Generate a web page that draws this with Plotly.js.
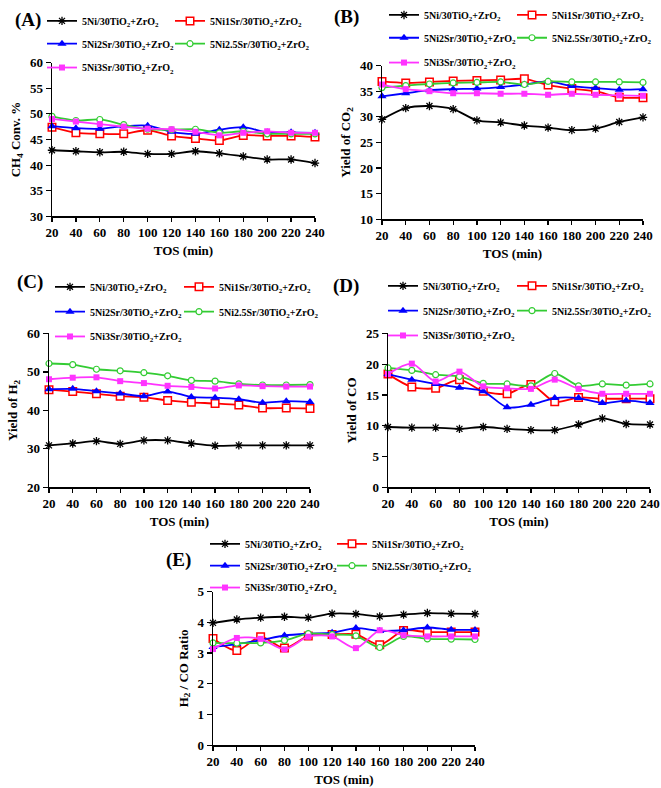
<!DOCTYPE html>
<html>
<head>
<meta charset="utf-8">
<script src="https://cdn.plot.ly/plotly-3.0.1.min.js"></script>
<style>html,body{margin:0;padding:0;background:#fff;}#chart{width:661px;height:788px;}</style>
</head>
<body>
<div id="chart"></div>
<script>
// ---- data ----
const tos = [20, 40, 60, 80, 100, 120, 140, 160, 180, 200, 220, 240];
const seriesNames = [
  '5Ni/30TiO<sub>2</sub>+ZrO<sub>2</sub>',
  '5Ni1Sr/30TiO<sub>2</sub>+ZrO<sub>2</sub>',
  '5Ni2Sr/30TiO<sub>2</sub>+ZrO<sub>2</sub>',
  '5Ni2.5Sr/30TiO<sub>2</sub>+ZrO<sub>2</sub>',
  '5Ni3Sr/30TiO<sub>2</sub>+ZrO<sub>2</sub>'
];
const panelLabels = ['(A)', '(B)', '(C)', '(D)', '(E)'];
const yTitles = ['CH<sub>4</sub> Conv. %', 'Yield of CO<sub>2</sub>', 'Yield of H<sub>2</sub>', 'Yield of CO', 'H<sub>2</sub> / CO Ratio'];
const xTitle = 'TOS (min)';

// (A) CH4 conversion
const ch4_Ni    = [42.9, 42.7, 42.5, 42.6, 42.2, 42.2, 42.7, 42.3, 41.7, 41.1, 41.1, 40.4];
const ch4_Sr1   = [47.4, 46.3, 46.1, 46.1, 46.8, 45.7, 45.2, 44.8, 45.8, 45.7, 45.7, 45.5];
const ch4_Sr2   = [47.6, 47.2, 47.1, 47.6, 47.7, 46.5, 46.1, 46.9, 47.4, 46.4, 46.4, 46.3];
const ch4_Sr25  = [49.5, 48.7, 48.9, 47.9, 47.0, 46.9, 47.0, 46.3, 46.6, 46.1, 46.1, 46.1];
const ch4_Sr3   = [49.0, 48.5, 48.0, 47.5, 47.1, 47.0, 46.5, 45.8, 46.3, 46.6, 46.3, 46.3];
// (B) Yield of CO2
const co2_Ni    = [29.5, 31.7, 32.1, 31.5, 29.3, 28.9, 28.3, 27.9, 27.4, 27.7, 29.0, 29.9];
const co2_Sr1   = [36.9, 36.6, 36.8, 37.0, 37.1, 37.2, 37.4, 36.2, 35.5, 35.0, 33.8, 33.7];
const co2_Sr2   = [34.0, 34.6, 35.2, 35.4, 35.5, 35.8, 36.3, 36.9, 36.0, 35.6, 35.3, 35.4];
const co2_Sr25  = [35.7, 36.1, 36.4, 36.6, 36.7, 36.8, 36.3, 36.9, 36.8, 36.8, 36.8, 36.7];
const co2_Sr3   = [36.3, 35.4, 35.0, 34.6, 34.6, 34.5, 34.5, 34.3, 34.5, 34.3, 34.2, 34.1];
// (C) Yield of H2
const h2_Ni     = [30.9, 31.4, 32.0, 31.3, 32.2, 32.2, 31.4, 30.8, 30.9, 30.9, 30.9, 30.9];
const h2_Sr1    = [45.4, 44.9, 44.3, 43.7, 43.4, 42.6, 42.1, 41.8, 41.4, 40.6, 40.6, 40.5];
const h2_Sr2    = [45.5, 45.6, 45.0, 44.4, 43.7, 44.9, 43.5, 43.3, 42.9, 42.0, 42.4, 42.2];
const h2_Sr25   = [52.2, 51.9, 50.7, 50.3, 49.8, 49.0, 47.8, 47.6, 46.9, 46.6, 46.6, 46.7];
const h2_Sr3    = [48.1, 48.5, 48.6, 47.6, 47.1, 46.4, 46.1, 45.7, 46.5, 46.3, 46.2, 46.2];
// (D) Yield of CO
const co_Ni     = [9.8, 9.7, 9.7, 9.5, 9.8, 9.5, 9.3, 9.3, 10.2, 11.2, 10.3, 10.2];
const co_Sr1    = [18.4, 16.3, 16.1, 17.5, 15.6, 15.2, 16.7, 13.9, 14.6, 14.4, 14.4, 14.4];
const co_Sr2    = [18.4, 17.5, 16.8, 16.2, 15.6, 13.0, 13.4, 14.5, 14.5, 13.7, 14.1, 13.7];
const co_Sr25   = [19.4, 19.0, 18.3, 18.0, 16.9, 16.8, 16.5, 18.5, 16.5, 16.8, 16.6, 16.8];
const co_Sr3    = [18.4, 20.1, 17.2, 18.8, 16.4, 16.1, 16.0, 17.5, 16.0, 15.2, 15.2, 15.2];
// (E) H2/CO ratio
const ratio_Ni   = [3.98, 4.09, 4.15, 4.18, 4.15, 4.28, 4.27, 4.19, 4.25, 4.30, 4.28, 4.27];
const ratio_Sr1  = [3.47, 3.08, 3.53, 3.16, 3.55, 3.60, 3.61, 3.27, 3.73, 3.68, 3.68, 3.68];
const ratio_Sr2  = [3.20, 3.29, 3.42, 3.57, 3.63, 3.66, 3.81, 3.72, 3.74, 3.83, 3.76, 3.75];
const ratio_Sr25 = [3.33, 3.32, 3.33, 3.41, 3.63, 3.60, 3.56, 3.18, 3.54, 3.46, 3.45, 3.44];
const ratio_Sr3  = [3.13, 3.49, 3.46, 3.12, 3.53, 3.54, 3.16, 3.74, 3.58, 3.54, 3.54, 3.54];

const yRanges = [[30, 60], [10, 40], [20, 60], [0, 25], [0, 5]];
const yDticks = [5, 5, 10, 5, 1];

// ---- styling ----
const FONT = 'Liberation Serif, Times New Roman, serif';
const styles = [
  {color: '#000000', symbol: 'asterisk-open', fill: '#000000', size: 7, lw: 1.3},
  {color: '#ff0000', symbol: 'square', fill: '#ffffff', size: 7.5, lw: 1.5},
  {color: '#0000ff', symbol: 'triangle-up', fill: '#0000ff', size: 8, lw: 0},
  {color: '#33cc33', symbol: 'circle', fill: '#ffffff', size: 6, lw: 1.2},
  {color: '#ff33ff', symbol: 'square', fill: '#ff33ff', size: 6, lw: 0}
];

const panelData = [
  [ch4_Ni, ch4_Sr1, ch4_Sr2, ch4_Sr25, ch4_Sr3],
  [co2_Ni, co2_Sr1, co2_Sr2, co2_Sr25, co2_Sr3],
  [h2_Ni, h2_Sr1, h2_Sr2, h2_Sr25, h2_Sr3],
  [co_Ni, co_Sr1, co_Sr2, co_Sr25, co_Sr3],
  [ratio_Ni, ratio_Sr1, ratio_Sr2, ratio_Sr25, ratio_Sr3]
];

// layout geometry (pixels in 661x788 page)
const W = 661, H = 788;
const boxes = [
  {x0: 52, x1: 315, y0: 57, y1: 212},
  {x0: 382, x1: 643, y0: 60, y1: 215},
  {x0: 49, x1: 310, y0: 330, y1: 485},
  {x0: 388, x1: 650, y0: 330, y1: 485},
  {x0: 213, x1: 475, y0: 590, y1: 745}
];
const labelPos = [[28, 14], [346, 11], [30, 278], [346, 282], [178, 558]];
// legend symbol centres: columns x, rows y
const legendPos = [
  {cols: [62, 190], rows: [15, 38, 62]},
  {cols: [404, 532], rows: [9, 32, 57]},
  {cols: [70, 199], rows: [283, 308, 333]},
  {cols: [403, 532], rows: [282, 307, 332]},
  {cols: [225, 352], rows: [542, 564, 586]}
];
const rowOfSeries = [0, 0, 1, 1, 2];
const colOfSeries = [0, 1, 0, 1, 0];

const traces = [];
const layout = {
  width: W, height: H, autosize: false,
  margin: {l: 0, r: 0, t: 0, b: 0},
  paper_bgcolor: '#ffffff', plot_bgcolor: '#ffffff',
  font: {family: FONT, color: '#000', size: 13, weight: 'bold'},
  showlegend: true,
  annotations: []
};

let legendCount = 0;
panelData.forEach((series, p) => {
  const n = p + 1;
  const xa = 'x' + (n === 1 ? '' : n), ya = 'y' + (n === 1 ? '' : n);
  const b = boxes[p];
  series.forEach((vals, s) => {
    const st = styles[s];
    legendCount++;
    const id = 'legend' + (legendCount === 1 ? '' : legendCount);
    const mx = legendPos[p].cols[colOfSeries[s]];
    const my = legendPos[p].rows[rowOfSeries[s]];
    layout[id] = {
      orientation: 'h', x: (mx - 20) / W, xanchor: 'left', xref: 'paper',
      y: 1 - my / H, yanchor: 'middle', yref: 'paper',
      bgcolor: 'rgba(0,0,0,0)', borderwidth: 0, itemwidth: 30,
      font: {family: FONT, size: 10, color: '#000', weight: 'bold'}
    };
    traces.push({
      type: 'scatter', mode: 'lines+markers', x: tos, y: vals,
      xaxis: xa, yaxis: ya, name: seriesNames[s],
      legend: id, showlegend: true,
      cliponaxis: false,
      line: {color: st.color, width: 1.8, shape: 'spline', smoothing: 0.8},
      marker: {color: st.fill, symbol: st.symbol, size: st.size,
               line: {color: st.color, width: st.lw}}
    });
  });
  const xKey = 'xaxis' + (n === 1 ? '' : n), yKey = 'yaxis' + (n === 1 ? '' : n);
  layout[xKey] = {
    domain: [b.x0 / W, b.x1 / W], anchor: ya, range: [20, 240],
    tickmode: 'array', tickvals: tos, ticktext: tos.map(String),
    showline: true, linecolor: '#000', linewidth: 1.5, mirror: false,
    ticks: 'outside', ticklen: 4, tickwidth: 1.2, tickcolor: '#000',
    showgrid: false, zeroline: false,
    tickfont: {family: FONT, size: 13, color: '#000', weight: 'bold'},
    title: {text: xTitle, font: {family: FONT, size: 13, color: '#000', weight: 'bold'}, standoff: 6},
    automargin: false, fixedrange: true
  };
  layout[yKey] = {
    domain: [1 - b.y1 / H, 1 - b.y0 / H], anchor: xa, range: yRanges[p], dtick: yDticks[p],
    tick0: yRanges[p][0],
    showline: true, linecolor: '#000', linewidth: 1.5, mirror: false,
    ticks: 'outside', ticklen: 5, tickwidth: 1.2, tickcolor: '#000',
    showgrid: false, zeroline: false,
    tickfont: {family: FONT, size: 13, color: '#000', weight: 'bold'},
    title: {text: yTitles[p], font: {family: FONT, size: 13, color: '#000', weight: 'bold'}, standoff: 6},
    automargin: false, fixedrange: true
  };
  layout.annotations.push({
    text: panelLabels[p], xref: 'paper', yref: 'paper',
    x: labelPos[p][0] / W, y: 1 - labelPos[p][1] / H, xanchor: 'center', yanchor: 'middle',
    showarrow: false, font: {family: FONT, size: 19, color: '#000', weight: 'bold'}
  });
});

Plotly.newPlot('chart', traces, layout, {displayModeBar: false, staticPlot: true});
</script>
</body>
</html>
